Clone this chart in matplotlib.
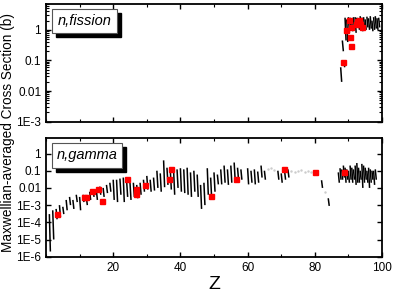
import matplotlib
matplotlib.use("Agg")
import matplotlib.pyplot as plt
from matplotlib.ticker import FixedLocator, MultipleLocator, LogLocator, NullFormatter
from matplotlib.patches import Rectangle
import numpy as np

plt.rcParams['font.family'] = ['Liberation Sans', 'DejaVu Sans']

# (n,gamma) isotope chains: Z, upper and lower value of each chain
gamma_z = [1, 2, 3, 4, 5, 6, 7, 8, 9, 10, 11, 12, 13, 14, 15, 16, 17, 18, 19, 20,
           21, 22, 23, 24, 25, 26, 27, 28, 29, 30, 31, 32, 33, 34, 35, 36, 37, 38, 39, 40,
           41, 42, 43, 44, 45, 46, 47, 48, 49, 50, 51, 52, 53, 54, 55, 56, 57, 58, 60, 61,
           62, 63, 64, 65, 69, 70, 71, 72, 82, 84,
           87, 87.5, 88, 88.5, 89, 89.5, 90, 90.5, 91, 91.5, 92, 92.5, 93, 93.5, 94, 94.5,
           95, 95.5, 96, 96.5, 97, 97.5, 98]
gamma_hi = [3e-4, 5e-4, 6e-4, 1e-3, 8e-4, 2e-3, 3e-3, 2e-3, 4e-3, 3e-3, 4e-3, 3e-3, 6e-3, 8e-3,
            7e-3, 0.012, 0.01, 0.015, 0.02, 0.03, 0.03, 0.035, 0.04, 0.025, 0.02, 0.02, 0.015,
            0.02, 0.03, 0.05, 0.03, 0.04, 0.1, 0.07, 0.4, 0.15, 0.1, 0.08, 0.12, 0.14, 0.12,
            0.15, 0.08, 0.1, 0.06, 0.015, 0.02, 0.14, 0.04, 0.08, 0.06, 0.12, 0.2, 0.12, 0.2,
            0.3, 0.15, 0.12, 0.14, 0.1, 0.12, 0.09, 0.2, 0.1, 0.1, 0.07, 0.1, 0.12, 0.028, 2.5e-3,
            0.08, 0.14, 0.12, 0.2, 0.15, 0.12, 0.1, 0.2, 0.15, 0.12, 0.2, 0.28, 0.15, 0.1, 0.25,
            0.2, 0.15, 0.1, 0.15, 0.12, 0.1, 0.1, 0.12]
gamma_lo = [2e-6, 1e-5, 1.5e-4, 2e-4, 3e-4, 5e-4, 1e-3, 6e-4, 1.5e-3, 5e-4, 1.5e-3, 1e-3, 2e-3,
            3e-3, 2e-3, 4e-3, 3e-3, 5e-3, 6e-3, 2e-3, 1.5e-3, 4e-3, 1.5e-3, 3e-3, 2e-3, 3e-3,
            2.5e-3, 4e-3, 6e-3, 8e-3, 6e-3, 7e-3, 0.01, 0.006, 0.011, 0.015, 0.008, 0.004, 0.01,
            0.006, 0.005, 0.004, 0.003, 0.006, 0.003, 6e-4, 1e-3, 0.004, 2.5e-3, 0.006, 0.016,
            0.016, 0.02, 0.015, 0.02, 0.028, 0.03, 0.03, 0.016, 0.02, 0.016, 0.02, 0.04, 0.03,
            0.03, 0.02, 0.03, 0.04, 0.01, 9e-4,
            0.02, 0.03, 0.03, 0.04, 0.02, 0.03, 0.02, 0.03, 0.02, 0.03, 0.015, 0.02, 0.02, 0.03,
            0.01, 0.02, 0.03, 0.02, 0.01, 0.02, 0.03, 0.015, 0.03]

# faint isolated points in the gaps
dots_z = [66, 67, 68, 73, 74, 75, 76, 77, 78, 79, 83]
dots_v = [0.12, 0.14, 0.11, 0.1, 0.09, 0.1, 0.11, 0.09, 0.1, 0.08, 0.006]

# (n,gamma) measured points
gamma_exp_z = [3.3, 11.2, 11.9, 13.7, 15.4, 16.6, 24.0, 26.7, 26.9, 29.5, 36.7, 37.1,
               49.0, 56.5, 70.8, 80.1, 88.6]
gamma_exp_v = [3.2e-4, 2.8e-3, 2.9e-3, 6.5e-3, 9e-3, 1.8e-3, 0.034, 8.5e-3, 4.2e-3, 0.014,
               0.035, 0.13, 3.6e-3, 0.035, 0.12, 0.08, 0.085]

# (n,fission) isotope chains
fis_z = [87.7, 88.2, 88.6, 89, 89.5, 90, 90.5, 91, 91.5, 92, 92.5, 93, 93.5, 94, 94.5,
         95, 95.5, 96, 96.5, 97, 97.5, 98, 98.5, 99]
fis_hi = [0.06, 0.45, 0.1, 2.5, 2.2, 2.6, 2.5, 1.8, 2.6, 2.6, 2.5, 2.0, 2.8, 2.5, 2.6,
          2.2, 2.7, 2.4, 2.8, 2.0, 2.6, 2.8, 2.4, 2.5]
fis_lo = [0.02, 0.2, 0.06, 0.45, 0.4, 0.8, 1.0, 0.9, 1.0, 0.8, 1.2, 1.0, 1.0, 0.9, 1.2,
          1.0, 1.2, 1.0, 1.1, 0.9, 1.0, 1.1, 1.0, 1.2]

fis_exp_z = [88.5, 89.2, 90.2, 90.4, 90.9, 90.8, 92.3, 92.6, 93.3, 93.5, 94.1]
fis_exp_v = [0.088, 1.0, 2.1, 0.6, 0.3, 1.25, 1.55, 2.0, 2.1, 1.6, 1.25]

W, H = 395, 295
fig = plt.figure(figsize=(W / 100, H / 100), dpi=100)
ax1 = fig.add_axes([46 / W, 1 - 121.7 / H, 336 / W, 117.7 / H])
ax2 = fig.add_axes([46 / W, 1 - 256.7 / H, 336 / W, 118.7 / H])


def draw_chains(ax, zs, his, los):
    for z, hi, lo in zip(zs, his, los):
        ax.plot([z, z + 0.3], [hi, lo], color='black', lw=1.1, solid_capstyle='butt')


def label_box(ax, text, x0, y0, w, h):
    # box with dropped shadow, coordinates in figure pixels
    tr = fig.transFigure
    fig.patches.append(Rectangle(((x0 + 4) / W, 1 - (y0 + h + 4) / H), w / W, h / H,
                                 transform=tr, facecolor='black', edgecolor='black', zorder=5))
    fig.patches.append(Rectangle((x0 / W, 1 - (y0 + h) / H), w / W, h / H,
                                 transform=tr, facecolor='white', edgecolor='#555555',
                                 lw=0.8, zorder=6))
    fig.text((x0 + w / 2) / W, 1 - (y0 + h / 2) / H, text, ha='center', va='center',
             fontsize=10.5, style='italic', zorder=7)


draw_chains(ax1, fis_z, fis_hi, fis_lo)
ax1.plot(fis_exp_z, fis_exp_v, 's', color='red', ms=3.6, mec='red', zorder=4)
draw_chains(ax2, gamma_z, gamma_hi, gamma_lo)
ax2.plot(dots_z, dots_v, '.', color='#cccccc', ms=1.5)
ax2.plot(gamma_exp_z, gamma_exp_v, 's', color='red', ms=3.6, mec='red', zorder=4)


def exp_label(v):
    if v >= 1:
        return '1'
    if v >= 0.01:
        return f'{v:g}'
    return f'1E-{int(round(-np.log10(v)))}'


for ax, lo, hi, decades in [(ax1, 1e-3, 7, [1e-3, 1e-2, 1e-1, 1]),
                            (ax2, 1e-6, 8, [1e-6, 1e-5, 1e-4, 1e-3, 1e-2, 1e-1, 1])]:
    ax.set_yscale('log')
    ax.set_ylim(lo, hi)
    ax.set_xlim(0, 100)
    ax.yaxis.set_major_locator(FixedLocator(decades))
    ax.set_yticklabels([exp_label(d) for d in decades])
    ax.yaxis.set_minor_locator(LogLocator(base=10, subs=np.arange(2, 10)))
    ax.yaxis.set_minor_formatter(NullFormatter())
    ax.xaxis.set_major_locator(FixedLocator([20, 40, 60, 80, 100]))
    ax.xaxis.set_minor_locator(MultipleLocator(10))
    ax.tick_params(which='both', direction='in', top=True, right=True, labelsize=8.5)
    ax.tick_params(which='major', length=3.5, width=1)
    ax.tick_params(which='minor', length=2, width=0.8)
    for s in ax.spines.values():
        s.set_linewidth(1.3)

ax1.tick_params(labelbottom=False)
ax2.set_xlabel('Z', fontsize=14, labelpad=2)
fig.text(0.02, 0.55, 'Maxwellian-averaged Cross Section (b)', rotation=90,
         ha='center', va='center', fontsize=9.8)

label_box(ax1, 'n,fission', 52, 9, 65, 24)
label_box(ax2, 'n,gamma', 52, 143, 70, 25)

fig.savefig('out.png', dpi=100)
